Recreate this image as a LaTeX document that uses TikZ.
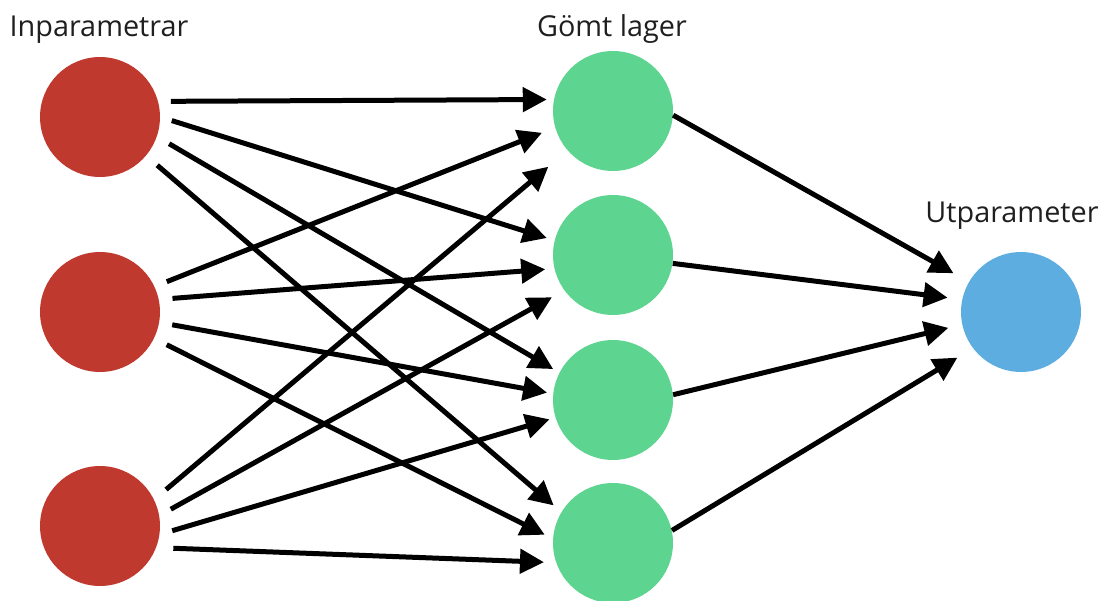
\documentclass[tikz,border=0pt]{standalone}
\usepackage{fontspec}
\setmainfont{Open Sans}
\usetikzlibrary{arrows.meta}
\definecolor{nnred}{RGB}{192,57,47}
\definecolor{nngreen}{RGB}{93,212,143}
\definecolor{nnblue}{RGB}{94,173,225}

\begin{document}
\begin{tikzpicture}[
  x=0.02cm,y=-0.02cm,
  font=\fontsize{16.4}{19}\selectfont,
  neuron/.style={circle,minimum size=2.4cm,inner sep=0pt},
  layer/.style={anchor=base,text=black!88},
  conn/.style={-{Triangle[length=4.8mm,width=4.8mm]},line width=1mm,shorten <=2.6mm,shorten >=1.6mm}
]
  \useasboundingbox (0,0) rectangle (1103,601);

  % input layer
  \node[neuron,fill=nnred] (in1) at (100,117) {};
  \node[neuron,fill=nnred] (in2) at (100,312) {};
  \node[neuron,fill=nnred] (in3) at (100,526) {};
  % hidden layer
  \node[neuron,fill=nngreen] (h1) at (613,111) {};
  \node[neuron,fill=nngreen] (h2) at (613,255) {};
  \node[neuron,fill=nngreen] (h3) at (613,400) {};
  \node[neuron,fill=nngreen] (h4) at (613,543) {};
  % output layer
  \node[neuron,fill=nnblue] (out) at (1021,312) {};

  \node[layer] (lin) at (99,37) {Inparametrar};
  \node[layer] (lhid) at (612,37) {Gömt lager};
  \node[layer] (lout) at (1012,223) {Utparameter};

  \draw[conn,shorten <=2.5mm,shorten >=1.4mm] (in1.15) -- (h1.169);
  \draw[conn,shorten <=2.4mm] (in1.0) -- (h2.166);
  \draw[conn,shorten <=2.8mm,shorten >=1.4mm] (in1.-19) -- (h3.153);
  \draw[conn,shorten <=2.9mm,shorten >=2mm] (in1.-40) -- (h4.149);

  \draw[conn,shorten >=2.8mm] (in2.25) -- (h1.196);
  \draw[conn,shorten <=2.7mm,shorten >=1.8mm] (in2.12) -- (h2.193);
  \draw[conn,shorten >=1.2mm] (in2.-10) -- (h3.174);
  \draw[conn,shorten <=2.8mm,shorten >=1.8mm] (in2.-26) -- (h4.176);

  \draw[conn,shorten <=3.1mm,shorten >=5mm] (in3.26) -- (h1.221);
  \draw[conn,shorten >=2.8mm] (in3.10) -- (h2.216);
  \draw[conn,shorten >=1.2mm] (in3.-8) -- (h3.197);
  \draw[conn,shorten <=3.4mm,shorten >=2.4mm] (in3.-21) -- (h4.199);

  \draw[conn,shorten <=0mm,shorten >=3.5mm] (h1.-4) -- (out.150);
  \draw[conn,shorten <=0mm,shorten >=2.9mm] (h2.-8) -- (out.168);
  \draw[conn,shorten <=0mm,shorten >=2.8mm] (h3.5) -- (out.192);
  \draw[conn,shorten <=0mm,shorten >=3.6mm] (h4.12) -- (out.217);
\end{tikzpicture}
\end{document}
